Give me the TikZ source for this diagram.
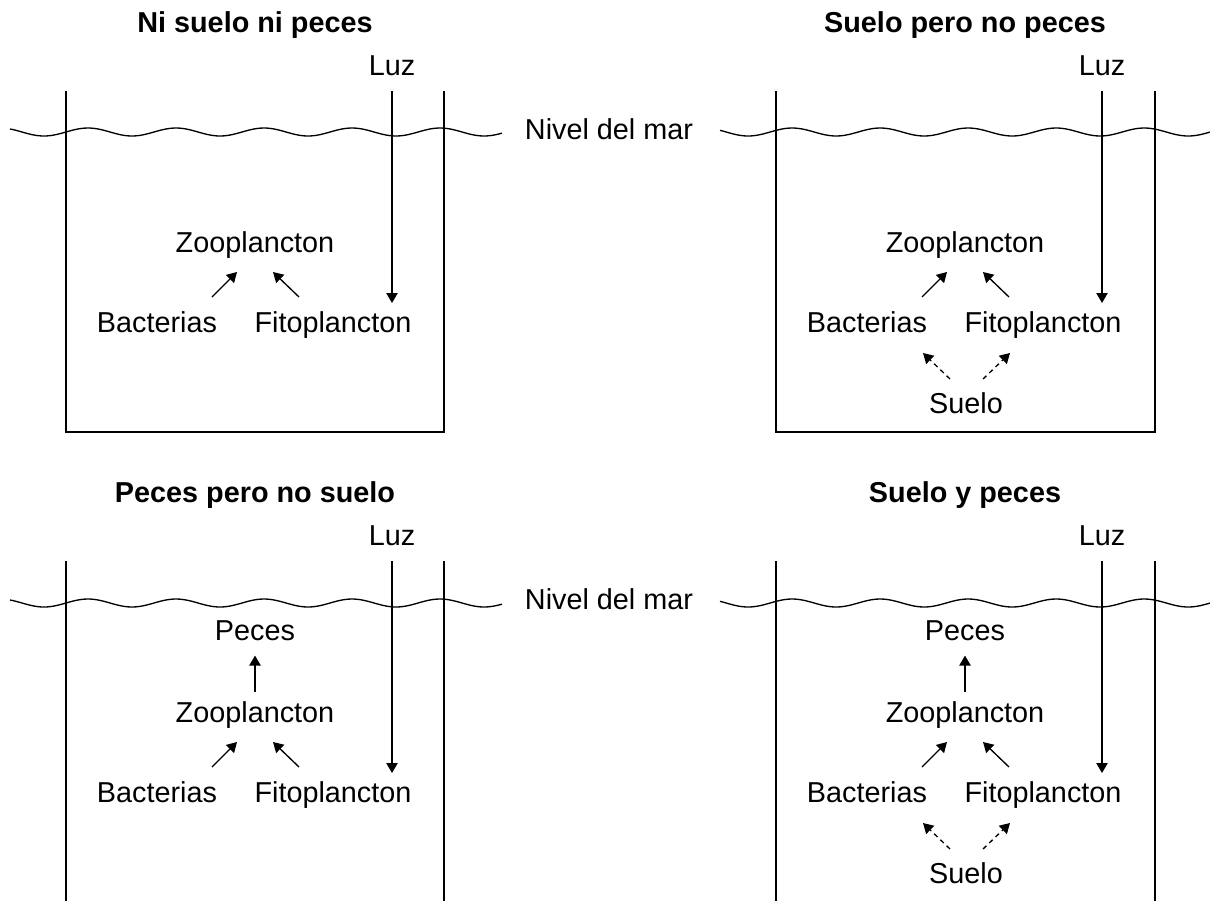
\documentclass[tikz,border=0pt]{standalone}
\usepackage{fontspec}
\setmainfont{Liberation Sans}
\usetikzlibrary{arrows.meta}
\newcommand{\lblfont}{\fontsize{21.6}{26}\selectfont}

\begin{document}
\begin{tikzpicture}[x=0.75pt,y=0.75pt,yscale=-1,xscale=1,
  lbl/.style={anchor=base,inner sep=0.75pt,font=\lblfont},
  ttl/.style={anchor=base,inner sep=0.75pt,font=\lblfont\bfseries},
  wall/.style={line width=1.2pt},
  sea/.style={line width=1pt},
  arr/.style={line width=1pt,-{Triangle[length=7.5pt,width=8.5pt]}},
  dasharr/.style={arr,dash pattern=on 3.5pt off 3pt}]
\useasboundingbox (0,0) rectangle (1210,901);

%Curve Lines: sea level, top row
\draw[sea] plot[domain=10:502,samples=160] (\x,{132-4*sin(4.09*(\x-66))});
\draw[sea] plot[domain=720:1210,samples=160] (\x,{132-4*sin(4.09*(\x-66))});
%Curve Lines: sea level, bottom row
\draw[sea] plot[domain=10:502,samples=160] (\x,{603-4*sin(4.09*(\x-66))});
\draw[sea] plot[domain=720:1210,samples=160] (\x,{603-4*sin(4.09*(\x-66))});

%Shape: tanks, top row
\draw[wall] (66,91) -- (66,432) -- (444,432) -- (444,91);
\draw[wall] (776,91) -- (776,432) -- (1155,432) -- (1155,91);
%Straight Lines: tanks, bottom row
\draw[wall] (66,561) -- (66,901);
\draw[wall] (444,561) -- (444,901);
\draw[wall] (776,561) -- (776,901);
\draw[wall] (1155,561) -- (1155,901);

% Text Node
\node[lbl] (nivelTop) at (609,139) {Nivel del mar};
% Text Node
\node[lbl] (nivelBot) at (609,609) {Nivel del mar};

% Panel: Ni suelo ni peces
\node[ttl] (ttlA) at (255,32) {Ni suelo ni peces};
\node[lbl] (luzA) at (392,75) {Luz};
\node[lbl] (zooA) at (255,252) {Zooplancton};
\node[lbl] (bacA) at (157,332) {Bacterias};
\node[lbl] (fitA) at (333,332) {Fitoplancton};
\coordinate (luzendA) at (392,303);
\coordinate (bA1) at (212,297); \coordinate (bA2) at (237,272);
\coordinate (fA1) at (299,297); \coordinate (fA2) at (273,272);
\draw[arr,shorten <=11pt] (luzA.south) -- (luzendA);
\draw[arr] (bA1) -- (bA2);
\draw[arr] (fA1) -- (fA2);

% Panel: Suelo pero no peces
\node[ttl] (ttlB) at (965,32) {Suelo pero no peces};
\node[lbl] (luzB) at (1102,75) {Luz};
\node[lbl] (zooB) at (965,252) {Zooplancton};
\node[lbl] (bacB) at (867,332) {Bacterias};
\node[lbl] (fitB) at (1043,332) {Fitoplancton};
\node[lbl] (sueB) at (966,413) {Suelo};
\coordinate (luzendB) at (1102,303);
\coordinate (bB1) at (922,297); \coordinate (bB2) at (947,272);
\coordinate (fB1) at (1009,297); \coordinate (fB2) at (983,272);
\coordinate (sB1) at (950,379); \coordinate (sB2) at (923,353);
\coordinate (sB3) at (983,379); \coordinate (sB4) at (1010,353);
\draw[arr,shorten <=11pt] (luzB.south) -- (luzendB);
\draw[arr] (bB1) -- (bB2);
\draw[arr] (fB1) -- (fB2);
\draw[dasharr] (sB1) -- (sB2);
\draw[dasharr] (sB3) -- (sB4);

% Panel: Peces pero no suelo
\node[ttl] (ttlC) at (255,502) {Peces pero no suelo};
\node[lbl] (luzC) at (392,545) {Luz};
\node[lbl] (pecC) at (255,640) {Peces};
\node[lbl] (zooC) at (255,722) {Zooplancton};
\node[lbl] (bacC) at (157,802) {Bacterias};
\node[lbl] (fitC) at (333,802) {Fitoplancton};
\coordinate (luzendC) at (392,773);
\coordinate (bC1) at (212,767); \coordinate (bC2) at (237,742);
\coordinate (fC1) at (299,767); \coordinate (fC2) at (273,742);
\draw[arr,shorten <=11pt] (luzC.south) -- (luzendC);
\draw[arr,shorten <=6pt,shorten >=10.5pt] (zooC.north) -- (pecC.south);
\draw[arr] (bC1) -- (bC2);
\draw[arr] (fC1) -- (fC2);

% Panel: Suelo y peces
\node[ttl] (ttlD) at (965,502) {Suelo y peces};
\node[lbl] (luzD) at (1102,545) {Luz};
\node[lbl] (pecD) at (965,640) {Peces};
\node[lbl] (zooD) at (965,722) {Zooplancton};
\node[lbl] (bacD) at (867,802) {Bacterias};
\node[lbl] (fitD) at (1043,802) {Fitoplancton};
\node[lbl] (sueD) at (966,883) {Suelo};
\coordinate (luzendD) at (1102,773);
\coordinate (bD1) at (922,767); \coordinate (bD2) at (947,742);
\coordinate (fD1) at (1009,767); \coordinate (fD2) at (983,742);
\coordinate (sD1) at (950,849); \coordinate (sD2) at (923,823);
\coordinate (sD3) at (983,849); \coordinate (sD4) at (1010,823);
\draw[arr,shorten <=11pt] (luzD.south) -- (luzendD);
\draw[arr,shorten <=6pt,shorten >=10.5pt] (zooD.north) -- (pecD.south);
\draw[arr] (bD1) -- (bD2);
\draw[arr] (fD1) -- (fD2);
\draw[dasharr] (sD1) -- (sD2);
\draw[dasharr] (sD3) -- (sD4);

\end{tikzpicture}
\end{document}
